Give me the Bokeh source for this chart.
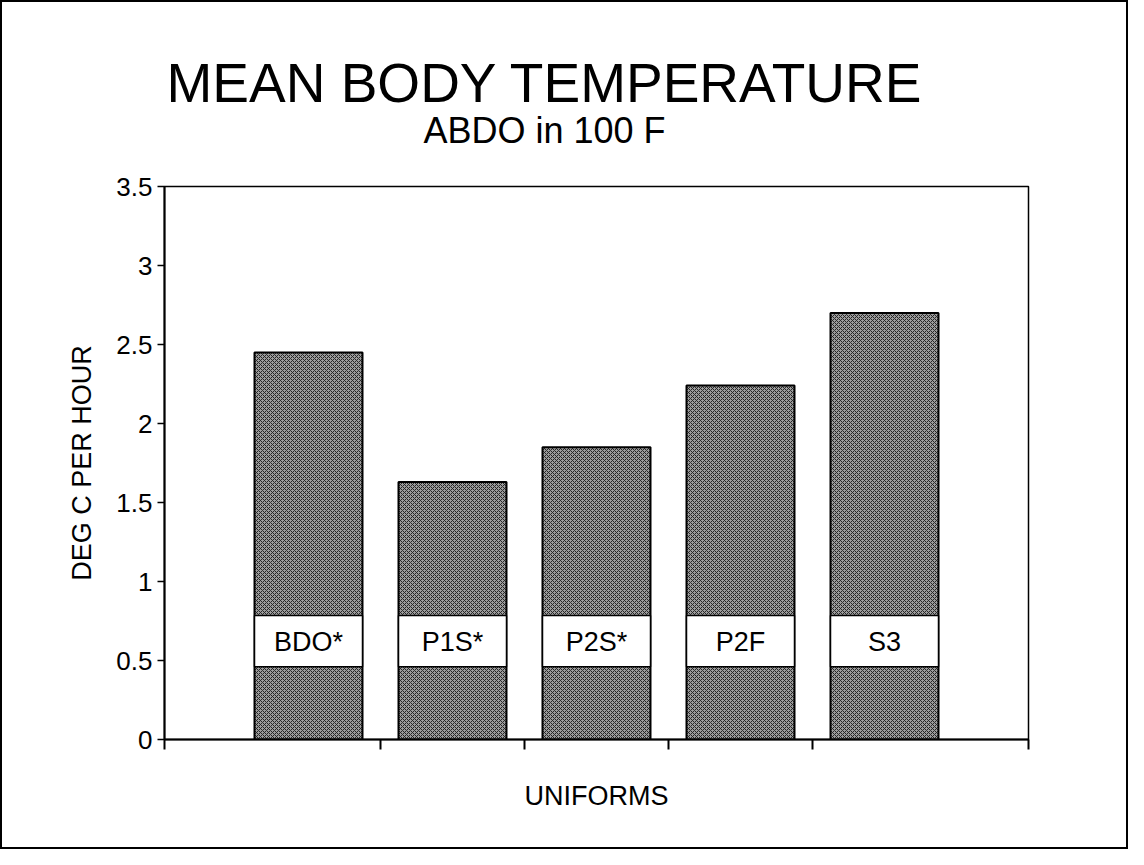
from bokeh.plotting import figure
from bokeh.layouts import column
from bokeh.models import ColumnDataSource, FixedTicker, Title, Range1d
from bokeh.embed import file_html
from bokeh.resources import INLINE
from bokeh.core.properties import value

# ---- data ----
uniforms = ["BDO*", "P1S*", "P2S*", "P2F", "S3"]
positions = [1, 2, 3, 4, 5]
deg_c_per_hour = [2.45, 1.63, 1.85, 2.24, 2.70]
y_ticks = [0, 0.5, 1, 1.5, 2, 2.5, 3, 3.5]
y_tick_labels = ["0", "0.5", "1", "1.5", "2", "2.5", "3", "3.5"]
x_ticks = [0, 1.5, 2.5, 3.5, 4.5, 6]

FONT = "Liberation Sans"

src = ColumnDataSource(dict(x=positions, top=deg_c_per_hour, label=uniforms))

p = figure(width=1124, height=845,
           x_range=Range1d(0, 6), y_range=Range1d(0, 3.5),
           output_backend="svg", toolbar_location=None,
           min_border_left=162, min_border_right=98,
           min_border_top=184, min_border_bottom=108,
           background_fill_color="white", border_fill_color="white")

p.outline_line_color = "black"
p.outline_line_width = 1.5
p.xgrid.visible = False
p.ygrid.visible = False

# titles: subtitle first (closest to the frame), then the main title
sub = Title(text="ABDO in 100 F", align="left", offset=259,
            text_font=FONT, text_font_size="36px", text_font_style="normal",
            text_color="black", standoff=72)
p.add_layout(sub, "above")
main = Title(text="MEAN BODY TEMPERATURE", align="left", offset=2,
             text_font=FONT, text_font_size="55px", text_font_style="normal",
             text_color="black", standoff=-85)
p.add_layout(main, "above")

# bars
p.vbar(x="x", top="top", bottom=0, width=0.75, source=src,
       fill_color="#9c9c9c", hatch_pattern="diagonal_cross", hatch_scale=4,
       hatch_color="#262626", hatch_weight=1.0,
       line_color="black", line_width=2)

# label boxes
p.vbar(x="x", bottom=0.46, top=0.785, width=0.75, source=src,
       fill_color="white", line_color="black", line_width=1.5)
p.text(x="x", y=0.62, text="label", source=src,
       text_align="center", text_baseline="middle",
       text_font=value(FONT), text_font_size="27px", text_color="black")

# x axis
xa = p.xaxis[0]
xa.ticker = FixedTicker(ticks=x_ticks)
xa.major_label_overrides = {t: "" for t in x_ticks}
xa.major_tick_out = 10
xa.major_tick_in = 0
xa.minor_tick_out = 0
xa.minor_tick_in = 0
xa.axis_line_width = 2
xa.axis_line_color = "black"
xa.major_tick_line_width = 2
xa.major_tick_line_color = "black"
xa.axis_label = "UNIFORMS"
xa.axis_label_text_font = FONT
xa.axis_label_text_font_size = "27px"
xa.axis_label_text_font_style = "normal"
xa.axis_label_text_color = "black"
xa.axis_label_standoff = 31

# y axis
ya = p.yaxis[0]
ya.ticker = FixedTicker(ticks=y_ticks)
ya.major_label_overrides = dict(zip(y_ticks, y_tick_labels))
ya.major_tick_out = 7
ya.major_tick_in = 0
ya.minor_tick_out = 0
ya.minor_tick_in = 0
ya.axis_line_width = 2
ya.axis_line_color = "black"
ya.major_tick_line_width = 1.5
ya.major_tick_line_color = "black"
ya.major_label_text_font = FONT
ya.major_label_text_font_size = "26px"
ya.major_label_text_color = "black"
ya.major_label_standoff = 5
ya.axis_label = "DEG C PER HOUR"
ya.axis_label_text_font = FONT
ya.axis_label_text_font_size = "27px"
ya.axis_label_text_font_style = "normal"
ya.axis_label_text_color = "black"
ya.axis_label_standoff = 16

page = column(p, styles={"border": "2px solid black"})

open("out.html", "w").write(file_html(page, INLINE))
